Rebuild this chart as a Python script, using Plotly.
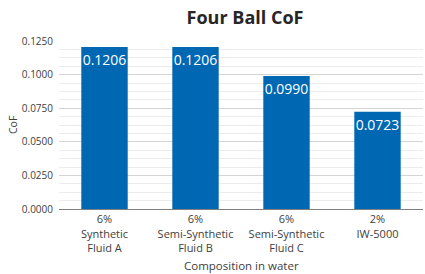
import plotly.graph_objects as go

categories = ["6%<br>Synthetic<br>Fluid A", "6%<br>Semi-Synthetic<br>Fluid B",
              "6%<br>Semi-Synthetic<br>Fluid C", "2%<br>IW-5000"]
cof_values = [0.1206, 0.1206, 0.0990, 0.0723]
value_labels = ["0.1206", "0.1206", "0.0990", "0.0723"]

FONT = "Open Sans"
W, H = 425, 274
L, R, T, B = 59, 2, 41, 65
fig = go.Figure(go.Bar(
    x=categories, y=cof_values, text=value_labels,
    textposition="inside", insidetextanchor="end", constraintext="none",
    textangle=0,
    textfont=dict(family=FONT, size=14, color="white"),
    marker=dict(color="#0068B3", line=dict(width=0)),
    width=0.51, hoverinfo="skip",
))
fig.update_layout(
    width=W, height=H,
    margin=dict(l=L, r=R, t=T, b=B, autoexpand=False),
    paper_bgcolor="white", plot_bgcolor="white",
    font=dict(family=FONT, size=11, color="#404040"),
    title=dict(text="<b>Four Ball CoF</b>", x=245/W, xanchor="center",
               y=1 - 18/H, yanchor="middle",
               font=dict(family=FONT, size=18, color="#262626")),
    showlegend=False,
    annotations=[
        dict(text="CoF", xref="paper", yref="paper", x=-(L - 13)/(W - L - R), y=0.5,
             xanchor="center", yanchor="middle", textangle=-90, showarrow=False,
             font=dict(size=10.5, color="#404040")),
        dict(text="Composition in water", xref="paper", yref="paper",
             x=0.5, y=-(265 - (H - B))/(H - T - B), xanchor="center", yanchor="middle",
             showarrow=False, font=dict(size=11.5, color="#404040")),
    ],
)
fig.update_yaxes(
    range=[0, 0.125], dtick=0.025, tickformat=".4f", automargin=False,
    showgrid=True, gridcolor="#d4d4d4", gridwidth=1,
    minor=dict(dtick=0.00625, showgrid=True, gridcolor="#ececec", gridwidth=1),
    zeroline=False, showline=False, ticks="", ticklabelstandoff=5,
    tickfont=dict(size=10),
)
fig.update_xaxes(
    showline=True, linecolor="#7f7f7f", linewidth=1, automargin=False,
    showgrid=False, ticks="", tickfont=dict(size=11),
)
fig.write_html("out.html", config={"displayModeBar": False},
               post_script="document.body.style.margin='0';document.body.style.overflow='hidden';")
